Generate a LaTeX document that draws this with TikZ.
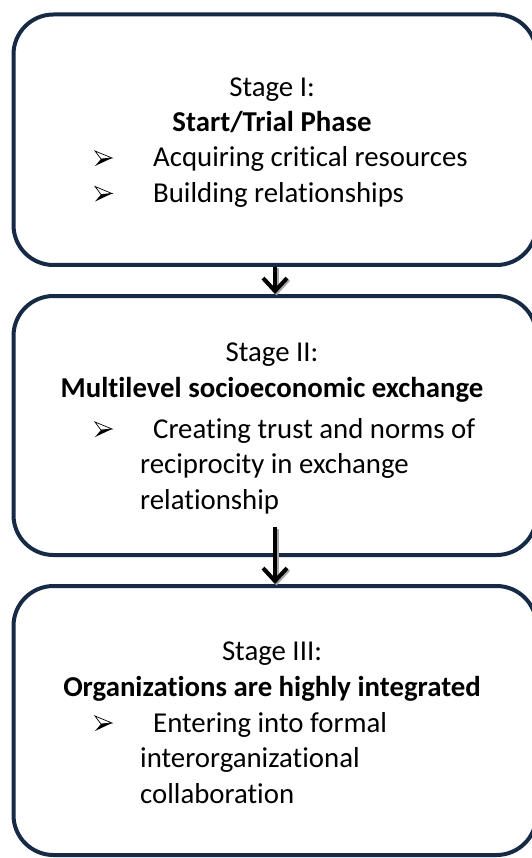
\documentclass[tikz,border=0pt]{standalone}
\usepackage{fontspec}
\setmainfont[Ligatures=NoCommon]{Carlito}
\usetikzlibrary{positioning, arrows.meta}

\definecolor{stageblue}{RGB}{22,42,70}
\newcommand{\bul}{\hspace*{58pt}}
\newcommand{\cont}{\hspace*{45pt}}

\begin{document}
\begin{tikzpicture}[
    x=1pt, y=-1pt,
    stage/.style={draw=stageblue, line width=4pt, rounded corners=40pt, minimum width=523pt, inner sep=0pt},
    title/.style={align=center, inner sep=0pt, anchor=base, font=\fontsize{28.8}{35.5}\selectfont},
    items/.style={align=left, inner sep=0pt, anchor=base west, font=\fontsize{28.8}{35.5}\selectfont},
    flow/.style={line width=4pt, -{Straight Barb[length=13pt, width=24pt]}},
    flowshade/.style={flow, black!35, transform canvas={shift={(1.5pt,-1.5pt)}}},
    % 3-D arrowhead bullet, origin on the baseline
    bullet/.pic={
        \draw[line width=0.7pt, fill=white, line join=miter] (0,-16) -- (17,-9) -- (6,-8) -- cycle;
        \fill (6,-8) -- (17,-9) -- (0,-1) -- cycle;
    }
]
\useasboundingbox (0,0) rectangle (531,858);

\node[stage, minimum height=250.5pt] (b1) at (275, 139.75) {};
\node[stage, minimum height=259pt] (b2) at (275, 425.5) {};
\node[stage, minimum height=269pt] (b3) at (275, 720.5) {};

% base anchor sits on the last line
\node[title] (t1) at (272, 132) {Stage I:\\\textbf{Start/Trial Phase}};
\node[items] (l1) at (95, 202.5) {\bul Acquiring critical resources\\\bul Building relationships};
\pic at (95, 167) {bullet};
\pic at (95, 202.5) {bullet};

\node[title] (t2) at (272, 397) {Stage II:\\\textbf{Multilevel socioeconomic exchange}};
\node[items] (l2) at (95, 509) {\bul Creating trust and norms of\\\cont reciprocity in exchange\\\cont relationship};
\pic at (95, 438) {bullet};

\node[title] (t3) at (272, 696) {Stage III:\\\textbf{Organizations are highly integrated}};
\node[items] (l3) at (95, 803) {\bul Entering into formal\\\cont interorganizational\\\cont collaboration};
\pic at (95, 732) {bullet};

% second arrow leaves from inside the middle box
\coordinate (s2) at (275, 527);

\draw[flowshade] (b1.south) -- (b2.north);
\draw[flow] (b1.south) -- (b2.north);
\draw[flowshade] (s2) -- (b3.north);
\draw[flow] (s2) -- (b3.north);
\end{tikzpicture}
\end{document}
